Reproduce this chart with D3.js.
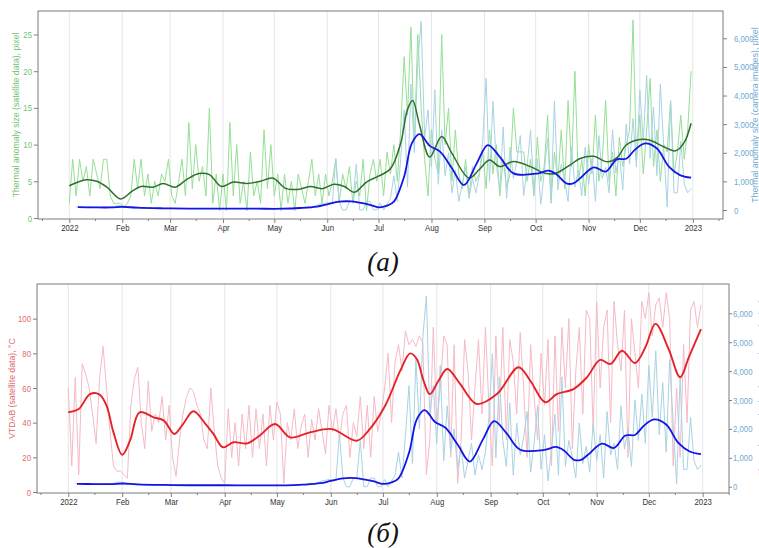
<!DOCTYPE html>
<html>
<head>
<meta charset="utf-8">
<script src="https://cdn.jsdelivr.net/npm/d3@7"></script>
<style>
  body { margin: 0; background: #fff; }
  svg { display: block; font-family: "Liberation Sans", Arial, sans-serif; }
</style>
</head>
<body>
<svg id="chart" width="759" height="548"></svg>
<script>
// raw daily-ish series, one value every 2 days starting 2022-01-01
const rawStepDays = 2;

const satPixelRaw = [
  2, 8, 3, 8, 5, 7, 3, 8, 6, 4, 8, 8, 3, 2, 2,
  2, 1.5, 2, 3, 8, 4, 8, 3, 6, 2, 5, 3, 6, 5, 8,
  3, 2, 5, 8, 3, 13, 4, 10, 5, 7, 3, 15, 2, 6, 1,
  6, 1, 13, 3, 10, 2, 5, 1, 9, 3, 5, 2, 12, 4, 10,
  3, 6, 1, 6, 2, 5, 1, 6, 4, 2, 5, 8, 3, 6, 2,
  6, 3, 5, 8, 2, 6, 4, 7, 2, 5, 3, 8, 1, 6, 8,
  5, 8, 3, 9, 6, 10, 5, 12, 22, 14, 26, 10, 25, 15, 8,
  3, 12, 8, 6, 25, 10, 15, 5, 12, 6, 4, 8, 3, 7, 5,
  6, 9, 4, 12, 6, 10, 3, 8, 4, 6, 15, 9, 9, 9, 5,
  8, 3, 11, 5, 7, 14, 2, 9, 5, 12, 4, 16, 7, 20, 5,
  8, 3, 10, 6, 14, 5, 8, 16, 5, 9, 3, 11, 7, 10, 12,
  27, 8, 14, 6, 12, 19, 7, 12, 5, 10, 9, 16, 6, 9, 14,
  8, 12, 20
];

const cameraRaw = [
  null, null, 100, 110, 90, 100, 120, 90, 100, 80, 110, 90, 100, 120, 150,
  160, 140, 100, 80, 70, 60, 70, 60, 50, 60, 50, 60, 50, 50, 60,
  50, 50, 50, 50, 50, 50, 50, 50, 50, 50, 50, 50, 50, 50, 50,
  50, 50, 50, 50, 50, 50, 50, 50, 50, 50, 50, 50, 50, 50, 50,
  50, 50, 40, 40, 50, 50, 60, 60, 80, 100, 120, 100, 150, 200, 220,
  250, 250, 250, 1800, 300, 0, 0, 300, 300, 1600, 0, 0, 300, 300, 0,
  0, 250, 0, 200, 400, 1200, 300, 1800, 3500, 800, 4400, 2000, 5200, 6600, 2500,
  3500, 1500, 4200, 900, 2800, 1200, 2000, 600, 1400, 300, 900, 1500, 400, 1100, 600,
  1200, 2400, 4600, 1000, 3800, 1600, 700, 2900, 400, 2200, 1100, 1700, 2600, 500, 1500,
  2800, 600, 1800, 200, 1300, 2500, 400, 3800, 700, 1600, 1000, 300, 2200, 800, 1400,
  500, 2200, 900, 1800, 300, 2600, 1100, 1500, 600, 2800, 1300, 2000, 700, 3000, 1600,
  3200, 1500, 4200, 2400, 4700, 1800, 3600, 1200, 4400, 2200, 100, 3800, 600, 600, 2400,
  900, 600, 750
];

const vtdabRaw = [
  60, 15, 66, 10, 74, 68, 60, 45, 28, 65, 84, 60, 35, 15, 12,
  12, 10, 8, 50, 65, 72, 40, 25, 64, 35, 45, 40, 55, 30, 50,
  20, 9, 30, 45, 55, 60, 58, 50, 45, 30, 25, 60, 35, 15, 8,
  5, 48, 20, 40, 15, 45, 25, 50, 20, 48, 25, 45, 15, 50, 30,
  52, 45, 5, 40, 30, 48, 25, 38, 45, 20, 42, 30, 48, 35, 22,
  50, 35, 48, 30, 45, 50, 20, 40, 32, 55, 25, 50, 20, 55, 35,
  45, 60, 80, 40, 75, 85, 70, 93, 85, 88, 84, 90, 86, 10, 30,
  95, 40, 60, 90, 85, 20, 85, 5, 30, 88, 70, 30, 60, 88, 45,
  95, 50, 15, 90, 40, 95, 30, 88, 75, 45, 92, 60, 20, 85, 55,
  30, 80, 50, 88, 15, 90, 35, 95, 60, 100, 25, 70, 95, 45, 105,
  100, 35, 110, 60, 95, 105, 40, 110, 85, 70, 105, 20, 100, 80, 60,
  110, 100, 115, 90, 108, 112, 95, 115, 100, 15, 60, 20, 85, 40, 105,
  110, 95, 108
];

// smoothed curves: day of year and value
const satPixelSmoothDay = [0, 10, 16, 22, 30, 37, 42, 49, 55, 62, 69, 76, 82, 89, 96, 104, 112, 119, 127, 134, 141, 148, 155, 161, 167, 174, 181, 188, 194, 198, 201, 205, 211, 218, 224, 234, 240, 246, 252, 260, 270, 279, 285, 293, 299, 307, 315, 321, 326, 334, 340, 348, 355, 360, 364];
const satPixelSmooth =    [4.4, 5.2, 5.0, 4.2, 2.6, 3.7, 4.3, 4.2, 4.7, 4.2, 5.3, 6.05, 5.9, 4.3, 4.9, 4.7, 5.0, 5.45, 4.0, 3.9, 4.3, 4.0, 4.6, 4.3, 3.5, 4.9, 5.7, 6.7, 10.2, 14.8, 16.0, 12.7, 8.3, 11.1, 8.8, 5.45, 6.6, 7.9, 7.0, 7.7, 7.0, 6.05, 6.1, 7.2, 8.1, 8.4, 7.65, 8.3, 9.95, 10.7, 10.6, 9.7, 9.15, 10.3, 12.9];

const cameraSmoothDay = [5, 15, 25, 31, 40, 55, 70, 90, 110, 125, 135, 145, 151, 158, 165, 170, 176, 181, 186, 190, 196, 200.5, 205, 211, 217, 224, 231, 238.5, 245, 252, 260, 274.6, 280.5, 285, 291, 295, 299, 307, 314, 320.5, 326, 331, 337, 344, 351, 357.5, 364];
const cameraSmooth =    [100, 90, 90, 110, 80, 60, 50, 50, 45, 45, 70, 120, 200, 290, 300, 255, 180, 95, 150, 290, 1165, 2330, 2650, 2240, 2040, 1460, 870, 1630, 2270, 1860, 1280, 1280, 1375, 1260, 930, 930, 1105, 1490, 1340, 1770, 1790, 2100, 2330, 2150, 1515, 1220, 1130];

const vtdabSmoothDay = [0, 6, 12.5, 18, 22, 26, 31, 35.5, 41, 49, 55, 61, 66, 72, 79, 83.5, 89, 95, 103, 110, 119, 127.6, 139, 151.6, 166, 172.7, 182.3, 191, 196.7, 200.5, 204.4, 208, 213, 218, 225.5, 235, 246.6, 259, 265.8, 274.4, 281, 290.7, 298.4, 306, 312, 318.6, 326, 332, 337.8, 345.4, 352, 357, 364];
const vtdabSmooth =    [46, 47.9, 56.5, 56.2, 49.8, 34.4, 21.5, 29.6, 46, 43.1, 41.2, 33.5, 39.2, 46.6, 39.2, 33.5, 25.8, 28.7, 28.1, 32.5, 39.2, 31.5, 34.4, 36.3, 29.6, 35.4, 49.8, 70, 80, 76.7, 64.2, 56.5, 64.2, 71, 62.3, 50.8, 56.5, 72, 64.2, 51.8, 56.5, 59.4, 66.2, 76.2, 73.9, 81.5, 74.4, 83.5, 97, 82.5, 66.2, 77.7, 94];

const monthLabels = ["2022", "Feb", "Mar", "Apr", "May", "Jun", "Jul", "Aug", "Sep", "Oct", "Nov", "Dec", "2023"];
const satTicks = [0, 5, 10, 15, 20, 25];
const vtdabTicks = [0, 20, 40, 60, 80, 100];
const cameraTicks = [0, 1000, 2000, 3000, 4000, 5000, 6000];

const svg = d3.select('#chart');
const start = new Date(2022, 0, 1), end = new Date(2023, 0, 1);
const toDate = d => new Date(start.getTime() + d * 864e5);

const rawPoints = values => values.map((v, i) => [toDate(i * rawStepDays), v]);
const smoothPoints = (days, values) => days.map((d, i) => [toDate(d), values[i]]);

const majorTicks = d3.timeMonth.range(start, new Date(2023, 0, 2));
const minorTicks = d3.timeMonth.range(new Date(2021, 11, 1), new Date(2023, 0, 2)).map(d => d3.timeDay.offset(d, 15));

const panels = [
  {
    left: 38, right: 723, top: 11, bottom: 219, xRange: [69.3, 692.8],
    leftDomain: [0, 25], leftRange: [218, 34.5], leftTicks: satTicks,
    rightRange: [210, 38.3], rightTick: 4, rightPad: 7,
    leftColor: '#6fc46f', rightColor: '#6fa9d2',
    leftTitle: 'Thermal anomaly size (satellite data), pixel', leftTitleX: 19,
    rightTitle: 'Thermal anomaly size (camera images), pixel', rightTitleX: 757.5,
    caption: '(a)', captionY: 271,
    raw: [[satPixelRaw, 'left', '#95e095'], [cameraRaw, 'right', '#a9d3e4']],
    smooth: [[satPixelSmoothDay, satPixelSmooth, 'left', '#2f6e2f', 1.5], [cameraSmoothDay, cameraSmooth, 'right', '#1414e6', 1.8]]
  },
  {
    left: 37, right: 729, top: 284, bottom: 493, xRange: [68.3, 702.7],
    leftDomain: [0, 100], leftRange: [492, 318.7], leftTicks: vtdabTicks,
    rightRange: [486.7, 313.3], rightTick: 3, rightPad: 1,
    leftColor: '#e06a6a', rightColor: '#6fa9d2',
    leftTitle: 'VTDAB (satellite data), °C', leftTitleX: 15,
    rightTitle: 'Thermal anomaly size (camera images), pixel', rightTitleX: 765,
    caption: '(б)', captionY: 542,
    raw: [[vtdabRaw, 'left', '#f6bac5'], [cameraRaw, 'right', '#a9d3e4']],
    smooth: [[vtdabSmoothDay, vtdabSmooth, 'left', '#e62229', 1.9], [cameraSmoothDay, cameraSmooth, 'right', '#1414e6', 1.8]]
  }
];

// the tick labels in the figure are set in a narrow face
function narrowText(sel) {
  sel.each(function() {
    const w = this.getComputedTextLength();
    d3.select(this).attr('textLength', w * 0.82).attr('lengthAdjust', 'spacingAndGlyphs');
  });
}

panels.forEach(p => {
  const g = svg.append('g');
  const x = d3.scaleTime().domain([start, end]).range(p.xRange);
  const yL = d3.scaleLinear().domain(p.leftDomain).range(p.leftRange);
  const yR = d3.scaleLinear().domain([0, 6000]).range(p.rightRange);
  const yFor = side => side === 'left' ? yL : yR;

  g.selectAll('line.grid')
    .data(majorTicks)
    .enter().append('line')
    .attr('class', 'grid')
    .attr('x1', d => x(d)).attr('x2', d => x(d))
    .attr('y1', p.top).attr('y2', p.bottom)
    .attr('stroke', '#e6e6ea').attr('stroke-width', 1);

  p.raw.forEach(([values, side, color]) => {
    const y = yFor(side);
    const line = d3.line().defined(d => d[1] != null).x(d => x(d[0])).y(d => y(d[1]));
    g.append('path').datum(rawPoints(values))
      .attr('d', line).attr('fill', 'none')
      .attr('stroke', color).attr('stroke-width', 1).attr('stroke-linejoin', 'round');
  });

  p.smooth.forEach(([days, values, side, color, w]) => {
    const y = yFor(side);
    const line = d3.line().curve(d3.curveCatmullRom.alpha(0.5)).x(d => x(d[0])).y(d => y(d[1]));
    g.append('path').datum(smoothPoints(days, values))
      .attr('d', line).attr('fill', 'none')
      .attr('stroke', color).attr('stroke-width', w);
  });

  g.append('rect')
    .attr('x', p.left).attr('y', p.top)
    .attr('width', p.right - p.left).attr('height', p.bottom - p.top)
    .attr('fill', 'none').attr('stroke', '#7a7a7a').attr('stroke-width', 1);

  const xAxis = g.append('g').attr('transform', `translate(0,${p.bottom})`)
    .call(d3.axisBottom(x).tickValues(majorTicks).tickFormat((d, i) => monthLabels[i]).tickSize(4).tickPadding(1));
  const xMinor = g.append('g').attr('transform', `translate(0,${p.bottom})`)
    .call(d3.axisBottom(x).tickValues(minorTicks).tickFormat('').tickSize(2));

  const yAxisL = g.append('g').attr('transform', `translate(${p.left},0)`)
    .call(d3.axisLeft(yL).tickValues(p.leftTicks).tickSize(4).tickPadding(2));
  const yAxisR = g.append('g').attr('transform', `translate(${p.right},0)`)
    .call(d3.axisRight(yR).tickValues(cameraTicks).tickFormat(d3.format(',')).tickSize(p.rightTick).tickPadding(p.rightPad));

  [xAxis, xMinor, yAxisL, yAxisR].forEach(a => {
    a.select('.domain').remove();
    a.selectAll('line').attr('stroke', '#808080');
    a.selectAll('text').attr('font-size', 9.5).call(narrowText);
  });
  xAxis.selectAll('text').attr('fill', '#333');
  yAxisL.selectAll('text').attr('fill', p.leftColor);
  yAxisR.selectAll('text').attr('fill', p.rightColor);

  const mid = (p.top + p.bottom) / 2;
  g.append('text')
    .attr('transform', `translate(${p.leftTitleX},${mid}) rotate(-90)`)
    .attr('text-anchor', 'middle').attr('font-size', 8.7).attr('fill', p.leftColor)
    .text(p.leftTitle);
  g.append('text')
    .attr('transform', `translate(${p.rightTitleX},${mid}) rotate(-90)`)
    .attr('text-anchor', 'middle').attr('font-size', 8.7).attr('fill', p.rightColor)
    .text(p.rightTitle);

  g.append('text')
    .attr('x', 383).attr('y', p.captionY)
    .attr('text-anchor', 'middle')
    .attr('font-family', '"Liberation Serif", "Times New Roman", serif')
    .attr('font-style', 'italic').attr('font-size', 27).attr('fill', '#111')
    .text(p.caption);
});
</script>
</body>
</html>
